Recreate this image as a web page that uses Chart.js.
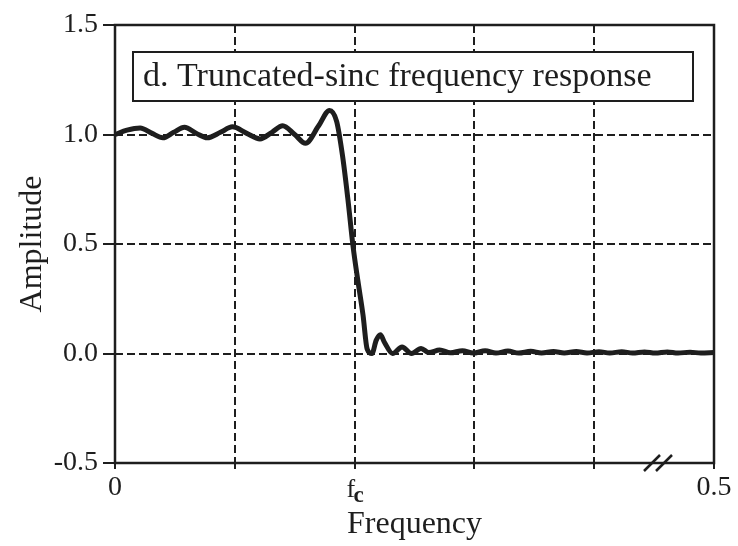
<!DOCTYPE html>
<html>
<head>
<meta charset="utf-8">
<script src="https://cdn.jsdelivr.net/npm/chart.js@4.4.1/dist/chart.umd.min.js"></script>
<style>
  html, body { margin: 0; padding: 0; background: #fff; }
  #wrap { width: 738px; height: 546px; position: relative; }
</style>
</head>
<body>
<div id="wrap"><canvas id="resp"></canvas></div>
<script>
// frequency (fraction of sampling rate) and amplitude of the truncated-sinc filter
const freq = [
  0.000, 0.010, 0.021, 0.031, 0.040, 0.049, 0.058, 0.068, 0.077, 0.088,
  0.098, 0.110, 0.121, 0.131, 0.140, 0.150, 0.159, 0.170, 0.179, 0.185,
  0.190, 0.1945, 0.1987, 0.2028, 0.207, 0.2105, 0.2145, 0.218, 0.2215, 0.225,
  0.2317, 0.2396, 0.2475, 0.2555, 0.262, 0.271, 0.280, 0.290, 0.299, 0.309,
  0.318, 0.328, 0.337, 0.347, 0.356, 0.366, 0.375, 0.385, 0.394, 0.404,
  0.413, 0.423, 0.432, 0.442, 0.451, 0.461, 0.470, 0.480, 0.489, 0.500
];
const amplitude = [
  1.000, 1.020, 1.030, 1.005, 0.985, 1.010, 1.033, 1.005, 0.985, 1.010,
  1.035, 1.005, 0.980, 1.010, 1.040, 1.000, 0.960, 1.040, 1.110, 1.060,
  0.900, 0.700, 0.490, 0.330, 0.177, 0.020, 0.000, 0.060, 0.086, 0.050,
  0.000, 0.030, 0.000, 0.023, 0.004, 0.016, 0.003, 0.013, 0.002, 0.012,
  0.002, 0.011, 0.002, 0.010, 0.002, 0.009, 0.002, 0.009, 0.002, 0.008,
  0.002, 0.008, 0.002, 0.007, 0.002, 0.007, 0.002, 0.006, 0.002, 0.005
];

const yTickValues = [-0.5, 0.0, 0.5, 1.0, 1.5];
const xTickValues = [0, 0.1, 0.2, 0.3, 0.4, 0.5];
const xTickLabels = ['0', '', '', '', '', '0.5'];
const cutoffFreq = 0.2;
const cutoffLabel = ['f', 'c'];
const panelTitle = 'd. Truncated-sinc frequency response';

const INK = '#1e1e1e';
const SERIF = '"Liberation Serif", "DejaVu Serif", serif';

// solid frame, title box, cutoff label and axis break
const decorations = {
  id: 'decorations',
  afterDraw(chart) {
    const { ctx, chartArea: a, scales } = chart;
    ctx.save();
    ctx.strokeStyle = INK;
    ctx.lineWidth = 2.5;
    ctx.strokeRect(a.left, a.top, a.right - a.left, a.bottom - a.top);

    // title box
    const bx = a.left + 18, by = a.top + 27, bw = 560, bh = 49;
    ctx.fillStyle = '#fff';
    ctx.fillRect(bx, by, bw, bh);
    ctx.lineWidth = 2;
    ctx.strokeRect(bx, by, bw, bh);
    ctx.fillStyle = INK;
    ctx.font = '34px ' + SERIF;
    ctx.textBaseline = 'alphabetic';
    ctx.textAlign = 'left';
    ctx.fillText(panelTitle, bx + 10, by + 34);

    // f with subscript c under the cutoff tick
    const cx = scales.x.getPixelForValue(cutoffFreq);
    ctx.font = '26px ' + SERIF;
    ctx.fillText(cutoffLabel[0], cx - 8, a.bottom + 34);
    ctx.font = 'bold 23px ' + SERIF;
    ctx.fillText(cutoffLabel[1], cx - 1, a.bottom + 39);

    // break mark on the frequency axis
    ctx.lineWidth = 2.5;
    ctx.beginPath();
    ctx.moveTo(644, a.bottom + 8); ctx.lineTo(660, a.bottom - 8);
    ctx.moveTo(656, a.bottom + 8); ctx.lineTo(672, a.bottom - 8);
    ctx.stroke();
    ctx.restore();
  }
};

new Chart(document.getElementById('resp'), {
  type: 'line',
  data: {
    datasets: [{
      data: freq.map((f, i) => ({ x: f, y: amplitude[i] })),
      borderColor: INK,
      borderWidth: 5,
      pointRadius: 0,
      cubicInterpolationMode: 'monotone',
      fill: false
    }]
  },
  options: {
    responsive: true,
    maintainAspectRatio: false,
    animation: false,
    layout: { padding: { top: 25, right: 24, left: 0, bottom: 0 } },
    plugins: { legend: { display: false }, tooltip: { enabled: false } },
    scales: {
      x: {
        type: 'linear',
        min: 0,
        max: 0.5,
        afterBuildTicks: s => { s.ticks = xTickValues.map(v => ({ value: v })); },
        afterFit: s => { s.height = 83; },
        ticks: {
          color: INK,
          font: { family: SERIF, size: 28 },
          padding: 2,
          maxRotation: 0,
          callback: (v, i) => xTickLabels[i]
        },
        grid: {
          color: INK,
          lineWidth: 2,
          tickLength: 6,
          tickBorderDash: [],
          tickWidth: 2
        },
        border: { display: false, dash: [8, 4] },
        title: {
          display: true,
          text: 'Frequency',
          color: INK,
          font: { family: SERIF, size: 32 },
          padding: { top: 0, bottom: 2 }
        }
      },
      y: {
        min: -0.5,
        max: 1.5,
        afterBuildTicks: s => { s.ticks = yTickValues.map(v => ({ value: v })); },
        afterFit: s => { s.width = 115; },
        ticks: {
          color: INK,
          font: { family: SERIF, size: 28 },
          padding: 5,
          callback: v => v.toFixed(1)
        },
        grid: {
          color: INK,
          lineWidth: 2,
          tickLength: 12,
          tickBorderDash: [],
          tickWidth: 2
        },
        border: { display: false, dash: [8, 4] },
        title: {
          display: true,
          text: 'Amplitude',
          color: INK,
          font: { family: SERIF, size: 32 },
          padding: { top: 13, bottom: 0 }
        }
      }
    }
  },
  plugins: [decorations]
});
</script>
</body>
</html>
